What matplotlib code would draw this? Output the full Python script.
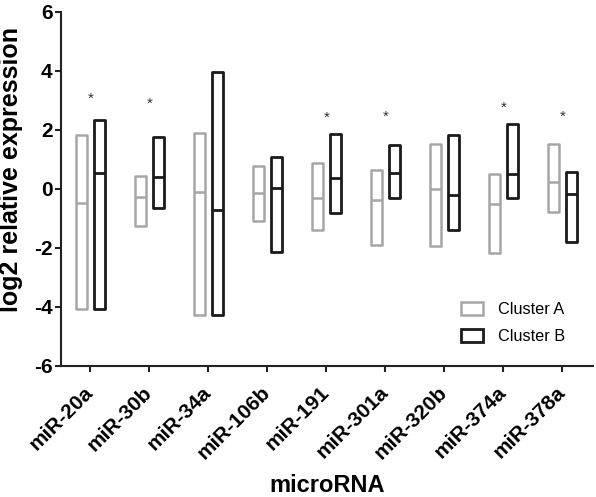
import matplotlib
matplotlib.use('Agg')
import matplotlib.pyplot as plt
import matplotlib.transforms as mtransforms
from matplotlib.patches import Patch

plt.rcParams['font.family'] = ['Liberation Sans', 'DejaVu Sans']
plt.rcParams['axes.unicode_minus'] = False

# floating bars: min / median / max per microRNA
mirnas = ['miR-20a', 'miR-30b', 'miR-34a', 'miR-106b', 'miR-191',
          'miR-301a', 'miR-320b', 'miR-374a', 'miR-378a']

a_min = [-4.08, -1.24, -4.27, -1.07, -1.39, -1.90, -1.93, -2.18, -0.77]
a_med = [-0.49, -0.26, -0.09, -0.12, -0.32, -0.37, -0.01, -0.52, 0.25]
a_max = [1.82, 0.45, 1.89, 0.78, 0.87, 0.64, 1.52, 0.51, 1.53]

b_min = [-4.07, -0.63, -4.27, -2.15, -0.80, -0.32, -1.39, -0.32, -1.81]
b_med = [0.55, 0.42, -0.71, 0.02, 0.36, 0.53, -0.20, 0.51, -0.17]
b_max = [2.34, 1.75, 3.98, 1.10, 1.85, 1.49, 1.83, 2.20, 0.59]

# significance marks (category index, y)
star_idx = [0, 1, 4, 5, 7, 8]
star_y = [3.05, 2.90, 2.40, 2.45, 2.76, 2.45]

gray = '#a6a6a6'
black = '#1a1a1a'

fig = plt.figure(figsize=(5.96, 4.97), dpi=100)
ax = fig.add_axes([0.1023, 0.2636, 0.8927, 0.7123])

w = 0.18
off = 0.155
x = list(range(len(mirnas)))

for vals, color, lw, sign in [((a_min, a_med, a_max), gray, 1.8, -1),
                              ((b_min, b_med, b_max), black, 2.0, 1)]:
    lo, med, hi = vals
    xs = [i + sign * off for i in x]
    heights = [h - l for h, l in zip(hi, lo)]
    ax.bar(xs, heights, width=w, bottom=lo, fill=False,
           edgecolor=color, linewidth=lw, joinstyle='round')
    ax.hlines(med, [v - w / 2 for v in xs], [v + w / 2 for v in xs],
              colors=color, linewidth=lw)

for i, y in zip(star_idx, star_y):
    ax.text(i, y, '*', ha='center', va='center', fontsize=11, color='#333333')

ax.set_xlim(-0.5, 8.52)
ax.set_ylim(-6, 6)
ax.set_yticks([-6, -4, -2, 0, 2, 4, 6])
ax.set_xticks(x)
ax.set_xticklabels(mirnas, rotation=45, ha='right', va='center',
                   rotation_mode='anchor', fontsize=15, fontweight='bold')
shift = mtransforms.ScaledTranslation(7 / 72, 0, fig.dpi_scale_trans)
for lab in ax.get_xticklabels():
    lab.set_transform(lab.get_transform() + shift)
for lab in ax.get_yticklabels():
    lab.set_fontsize(15)
    lab.set_fontweight('bold')

for s in ['top', 'right']:
    ax.spines[s].set_visible(False)
for s in ['left', 'bottom']:
    ax.spines[s].set_linewidth(1.5)
    ax.spines[s].set_color('#222222')
ax.tick_params(axis='both', width=1.5, length=4, color='#222222')
ax.tick_params(axis='y', pad=2)
ax.tick_params(axis='x', pad=13)

ax.set_ylabel('log2 relative expression', fontsize=18, fontweight='bold')
ax.yaxis.set_label_coords(-0.0714, 0.554)
ax.set_xlabel('microRNA', fontsize=17, fontweight='bold')
ax.xaxis.set_label_coords(0.5, -0.305)

handles = [Patch(facecolor='white', edgecolor=gray, linewidth=1.8, label='Cluster A'),
           Patch(facecolor='white', edgecolor=black, linewidth=2.0, label='Cluster B')]
ax.legend(handles=handles, loc='lower right', bbox_to_anchor=(0.975, 0.02),
          frameon=False, fontsize=11.7, handlelength=1.4, handleheight=0.8,
          handletextpad=0.9, labelspacing=0.75)

fig.savefig('out.png', dpi=100)
